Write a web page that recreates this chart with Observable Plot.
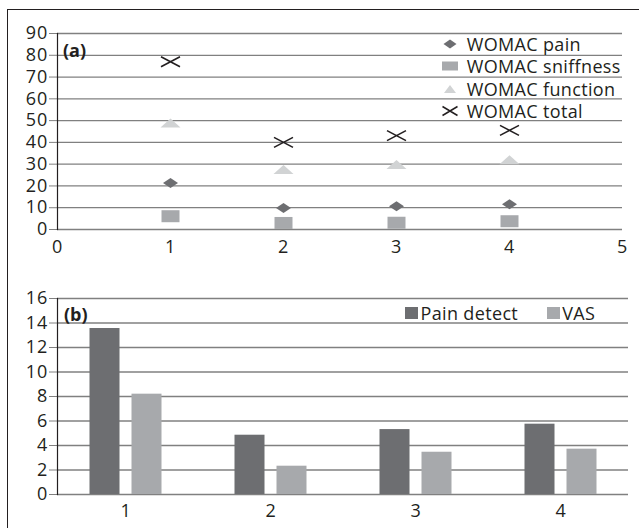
<!DOCTYPE html>
<html><head><meta charset="utf-8">
<script src="https://cdn.jsdelivr.net/npm/d3@7"></script>
<script src="https://cdn.jsdelivr.net/npm/@observablehq/plot@0.6"></script>
<style>
body{margin:0;background:#fff;}
#wrap{position:relative;width:639px;height:528px;overflow:hidden;font-family:"Open Sans",sans-serif;color:#231f20;background:#fff;}
#frame{position:absolute;left:7px;top:9px;width:640px;height:530px;border-left:1.7px solid #231f20;border-top:1.7px solid #231f20;box-sizing:border-box;pointer-events:none;}
.panel{position:absolute;left:0;}
.panel svg text{letter-spacing:0.8px;}
.row{position:absolute;display:flex;align-items:center;height:22px;font-size:18px;letter-spacing:0.35px;white-space:nowrap;line-height:22px;}
.row svg{display:block;flex:none;}
.tag{position:absolute;font-weight:bold;font-size:18px;line-height:20px;}
</style>
</head><body>
<div id="wrap">
  <div id="frame"></div>
  <div id="pa" class="panel" style="top:0"></div>
  <div id="pb" class="panel" style="top:260px"></div>
  <div id="legA"></div>
  <div id="legB"></div>
  <div class="tag" style="left:63px;top:40px">(a)</div>
  <div class="tag" style="left:64px;top:304px">(b)</div>
</div>
<script>
// ---- data panel (a)
const timepoints = [1, 2, 3, 4];
const womacPain = [21.3, 9.9, 10.7, 11.6];
const womacStiffness = [6.1, 3.0, 3.1, 3.8];
const womacFunction = [48.9, 27.5, 29.8, 32.0];
const womacTotal = [77.0, 40.0, 43.1, 45.5];
const seriesA = ["WOMAC pain", "WOMAC sniffness", "WOMAC function", "WOMAC total"];
const xTicksA = [0, 1, 2, 3, 4, 5];
const yTicksA = [0, 10, 20, 30, 40, 50, 60, 70, 80, 90];

// ---- data panel (b)
const groups = [1, 2, 3, 4];
const painDetect = [13.55, 4.84, 5.3, 5.74];
const vas = [8.19, 2.31, 3.45, 3.7];
const seriesB = ["Pain detect", "VAS"];
const yTicksB = [0, 2, 4, 6, 8, 10, 12, 14, 16];

const ink = "#231f20", grid = "#808080";
const cPain = "#6d6e71", cStiff = "#a7a9ac", cFunc = "#d1d3d4", cTotal = "#231f20";
const cPD = "#6d6e71", cVAS = "#a7a9ac";

const diamondSym = {draw(c){c.moveTo(-7.5,0);c.lineTo(0,-5);c.lineTo(7.5,0);c.lineTo(0,5);c.closePath();}};
const rectSym = {draw(c){c.rect(-9,-6,18,12);}};
const triSym = {draw(c){c.moveTo(-10,4.5);c.lineTo(0,-4.5);c.lineTo(10,4.5);c.closePath();}};
const crossSym = {draw(c){c.moveTo(-9.5,-5);c.lineTo(9.5,5);c.moveTo(-9.5,5);c.lineTo(9.5,-5);}};

const dataA = timepoints.map((t, i) => ({t, pain: womacPain[i], stiff: womacStiffness[i], func: womacFunction[i], total: womacTotal[i]}));
const dataB = groups.map((g, i) => ({g, pd: painDetect[i], vas: vas[i]}));

const font = {fontFamily: '"Open Sans", sans-serif', fontSize: "18px", color: ink, background: "transparent", overflow: "visible"};

const plotA = Plot.plot({
  width: 639, height: 260,
  marginLeft: 57, marginRight: 17, marginTop: 33, marginBottom: 31,
  style: font,
  x: {domain: [0, 5]},
  y: {domain: [0, 90]},
  marks: [
    Plot.ruleY(yTicksA, {stroke: grid, strokeWidth: 1.3}),
    Plot.axisY({ticks: yTicksA, tickSize: 8, tickPadding: 1.5, stroke: grid, fill: ink, fontSize: 18, tickFormat: d => d, label: null}),
    Plot.axisX({ticks: xTicksA, tickSize: 0, tickPadding: 11, fill: ink, fontSize: 18, tickFormat: d => d, label: null}),
    Plot.frame({anchor: "left", stroke: ink, strokeWidth: 1.2}),
    Plot.dot(dataA, {x: "t", y: "stiff", symbol: rectSym, fill: cStiff, stroke: "none"}),
    Plot.dot(dataA, {x: "t", y: "func", symbol: triSym, fill: cFunc, stroke: "none"}),
    Plot.dot(dataA, {x: "t", y: "pain", symbol: diamondSym, fill: cPain, stroke: "none"}),
    Plot.dot(dataA, {x: "t", y: "total", symbol: crossSym, fill: "none", stroke: cTotal, strokeWidth: 1.6})
  ]
});
document.getElementById("pa").appendChild(plotA);

const plotB = Plot.plot({
  width: 639, height: 268,
  marginLeft: 57, marginRight: 11, marginTop: 38, marginBottom: 34,
  style: font,
  x: {type: "band", domain: groups, range: [51.75, 633.75], padding: 0},
  y: {domain: [0, 16]},
  marks: [
    Plot.ruleY(yTicksB, {stroke: grid, strokeWidth: 1.3}),
    Plot.barY(dataB, {x: "g", y: "pd", fill: cPD, insetLeft: 57.5, insetRight: 57.5, dx: -21}),
    Plot.barY(dataB, {x: "g", y: "vas", fill: cVAS, insetLeft: 57.5, insetRight: 57.5, dx: 21}),
    Plot.axisY({ticks: yTicksB, tickSize: 8, tickPadding: 1.5, stroke: grid, fill: ink, fontSize: 18, tickFormat: d => d, label: null}),
    Plot.axisX({tickSize: 0, tickPadding: 10, fill: ink, fontSize: 18, label: null}),
    Plot.frame({anchor: "left", stroke: ink, strokeWidth: 1.2})
  ]
});
document.getElementById("pb").appendChild(plotB);

// ---- legends (HTML)
const swA = [
  `<svg width="20" height="14" viewBox="-10 -7 20 14"><path d="M-6.5,0L0,-4.5L6.5,0L0,4.5Z" fill="${cPain}"/></svg>`,
  `<svg width="20" height="14" viewBox="-10 -7 20 14"><rect x="-8" y="-4.5" width="16" height="9" fill="${cStiff}"/></svg>`,
  `<svg width="20" height="14" viewBox="-10 -7 20 14"><path d="M-6,4L0,-4L6,4Z" fill="${cFunc}"/></svg>`,
  `<svg width="20" height="14" viewBox="-10 -7 20 14"><path d="M-7.5,-4.5L7.5,4.5M-7.5,4.5L7.5,-4.5" stroke="${cTotal}" stroke-width="1.5" fill="none"/></svg>`
];
const legA = document.getElementById("legA");
seriesA.forEach((s, i) => {
  const d = document.createElement("div");
  d.className = "row";
  d.style.left = "440px";
  d.style.top = (33 + i * 22.3) + "px";
  d.innerHTML = swA[i] + `<span style="margin-left:6.7px">${s}</span>`;
  legA.appendChild(d);
});
const legB = document.getElementById("legB");
const colB = [cPD, cVAS];
const leftB = [405, 546.7];
seriesB.forEach((s, i) => {
  const d = document.createElement("div");
  d.className = "row";
  d.style.left = leftB[i] + "px";
  d.style.top = "302px";
  d.innerHTML = `<svg width="13" height="12"><rect width="13" height="12" fill="${colB[i]}"/></svg><span style="margin-left:2.5px">${s}</span>`;
  legB.appendChild(d);
});
</script>
</body></html>
